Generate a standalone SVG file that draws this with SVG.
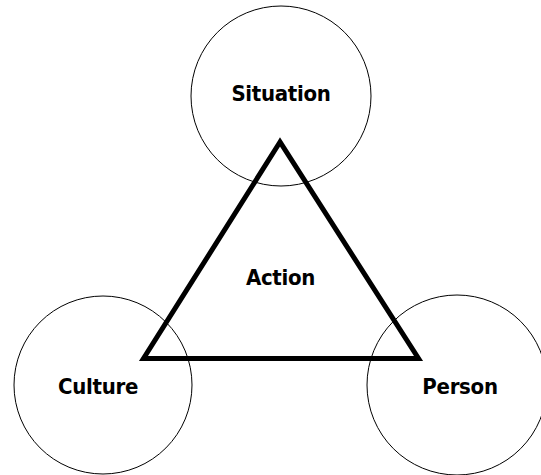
<svg xmlns="http://www.w3.org/2000/svg" width="541" height="475" viewBox="0 0 541 475">
  <style>
    .ring { fill: none; stroke: #000; stroke-width: 1; }
    .tri { fill: none; stroke: #000; stroke-width: 5; stroke-linejoin: miter; }
    .label { font-family: "DejaVu Sans Condensed", "DejaVu Sans", sans-serif; font-weight: bold; font-size: 22px; letter-spacing: -0.3px; fill: #000; text-anchor: middle; }
  </style>
  <rect width="541" height="475" fill="#fff"/>
  <g id="situation">
    <circle class="ring" cx="281" cy="96" r="90"/>
    <text class="label" x="281" y="101">Situation</text>
  </g>
  <g id="culture">
    <circle class="ring" cx="103" cy="385" r="89"/>
    <text class="label" x="98" y="394">Culture</text>
  </g>
  <g id="person">
    <circle class="ring" cx="457" cy="385" r="90"/>
    <text class="label" x="460" y="394">Person</text>
  </g>
  <g id="connectors">
    <polygon class="tri" points="280,142 143.5,358.5 418.5,358.5"/>
  </g>
  <g id="action">
    <text class="label" x="280.5" y="285">Action</text>
  </g>
</svg>
